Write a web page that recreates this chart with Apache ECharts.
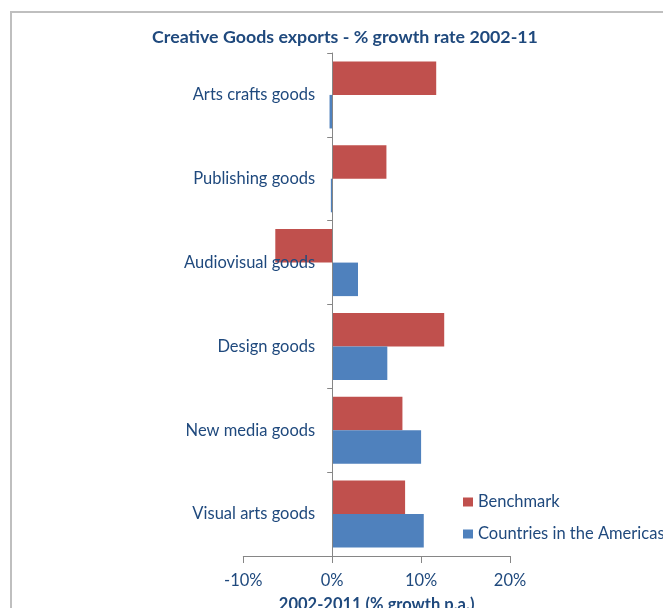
<!DOCTYPE html>
<html>
<head>
<meta charset="utf-8">
<script src="https://cdn.jsdelivr.net/npm/echarts@6/dist/echarts.min.js"></script>
<style>
  html, body { margin: 0; padding: 0; background: #fff; }
  #chart { width: 663px; height: 608px; }
</style>
</head>
<body>
<div id="chart"></div>
<script>
// Creative goods categories, listed top to bottom
const categories = ['Arts crafts goods', 'Publishing goods', 'Audiovisual goods',
  'Design goods', 'New media goods', 'Visual arts goods'];
// Average annual growth 2002-2011, in percent
const benchmark = [11.7, 6.1, -6.4, 12.6, 7.9, 8.2];
const americas = [-0.3, -0.15, 2.9, 6.2, 10.0, 10.3];
// Horizontal axis ticks
const xTicks = [-10, 0, 10, 20];

const FONT = 'Lato';
const TEXT = '#1F497D';
const AXIS = '#868686';

const GRID_LEFT = 243.3;
const GRID_RIGHT = 153;
const PLOT_W = 663 - GRID_LEFT - GRID_RIGHT;
// Category labels sit beside the zero line rather than the plot's left edge
const zeroX = PLOT_W * (0 - xTicks[0]) / (xTicks[xTicks.length - 1] - xTicks[0]);

const chart = echarts.init(document.getElementById('chart'), null, { renderer: 'canvas' });

chart.setOption({
  backgroundColor: '#fff',
  animation: false,
  title: {
    text: 'Creative Goods exports - % growth rate 2002-11',
    left: 340,
    top: 23,
    textAlign: 'center',
    textStyle: { fontFamily: FONT, fontSize: 17.8, fontWeight: 'bold', color: TEXT }
  },
  graphic: [{
    type: 'rect',
    shape: { x: 11, y: 12, width: 700, height: 700 },
    style: { fill: null, stroke: '#BFBFBF', lineWidth: 2 },
    silent: true,
    z: 0
  }],
  legend: {
    orient: 'vertical',
    left: 463,
    top: 493,
    padding: 0,
    itemWidth: 10,
    itemHeight: 9,
    itemGap: 14,
    itemTextGap: 6,
    icon: 'rect',
    textStyle: { fontFamily: FONT, fontSize: 16.5, color: TEXT, lineHeight: 18 },
    data: ['Benchmark', 'Countries in the Americas']
  },
  grid: {
    left: GRID_LEFT, right: GRID_RIGHT, top: 53, bottom: 52,
    containLabel: false,
    outerBoundsMode: 'none'
  },
  xAxis: {
    type: 'value',
    min: xTicks[0],
    max: xTicks[xTicks.length - 1],
    interval: 10,
    name: '2002-2011 (% growth p.a.)',
    nameLocation: 'middle',
    nameGap: 40,
    nameTextStyle: { fontFamily: FONT, fontSize: 16.5, fontWeight: 'bold', color: TEXT },
    axisLine: { show: true, lineStyle: { color: AXIS, width: 1 } },
    axisTick: { show: true, length: 7, lineStyle: { color: AXIS } },
    axisLabel: { formatter: '{value}%', fontFamily: FONT, fontSize: 16.5, color: TEXT, margin: 16 },
    splitLine: { show: false }
  },
  yAxis: {
    type: 'category',
    data: categories,
    inverse: true,
    z: 10,
    axisLine: { show: true, onZero: true, lineStyle: { color: AXIS, width: 1 } },
    axisTick: { show: true, length: 5, lineStyle: { color: AXIS } },
    axisLabel: { fontFamily: FONT, fontSize: 16.5, color: TEXT, margin: 17 - zeroX }
  },
  series: [
    {
      name: 'Benchmark',
      type: 'bar',
      data: benchmark,
      barGap: '0%',
      barCategoryGap: '20%',
      itemStyle: { color: '#C0504D' }
    },
    {
      name: 'Countries in the Americas',
      type: 'bar',
      data: americas,
      barGap: '0%',
      barCategoryGap: '20%',
      itemStyle: { color: '#4F81BD' }
    }
  ]
});
</script>
</body>
</html>
